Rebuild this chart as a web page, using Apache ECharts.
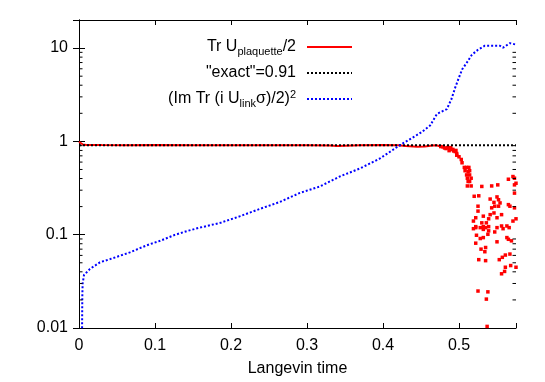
<!DOCTYPE html>
<html><head><meta charset="utf-8">
<script src="https://cdn.jsdelivr.net/npm/echarts@6/dist/echarts.min.js"></script>
<style>html,body{margin:0;padding:0;background:#fff}#c{width:545px;height:382px}</style>
</head><body><div id="c"></div>
<script>
const xMin = 0, xMax = 0.575, xInterval = 0.1;
const yMin = 0.01, yMax = 20;
const xTickLabels = ['0','0.1','0.2','0.3','0.4','0.5'];
const yTickLabels = ['0.01','0.1','1','10'];
const yMinorTicks = [0.02,0.03,0.04,0.05,0.06,0.07,0.08,0.09,0.2,0.3,0.4,0.5,0.6,0.7,0.8,0.9,2,3,4,5,6,7,8,9];

const legendNames = ['Tr U{sub|plaquette}/2', '"exact"=0.91', '(Im Tr (i U{sub|link}σ)/2){sup|2}'];

const plaquetteLine = [[0,0.99],[0.002,0.95],[0.005,0.925],[0.01,0.915],[0.03,0.912],[0.06,0.91],[0.1,0.912],[0.15,0.91],[0.2,0.911],[0.25,0.91],[0.3,0.91],[0.33,0.905],[0.34,0.89],[0.35,0.9],[0.37,0.91],[0.4,0.912],[0.42,0.91],[0.43,0.89],[0.445,0.875],[0.455,0.88],[0.465,0.905],[0.47,0.91],[0.476,0.88]];

const plaquetteScatter = [[0.476,0.88],[0.479,0.873],[0.481,0.85],[0.483,0.838],[0.485,0.86],[0.487,0.796],[0.489,0.857],[0.49,0.82],[0.492,0.82],[0.493,0.79],[0.495,0.778],[0.496,0.80],[0.497,0.741],[0.497,0.711],[0.5,0.684],[0.503,0.640],[0.504,0.590],
[0.507,0.526],[0.510,0.526],[0.513,0.526],[0.508,0.485],[0.512,0.474],[0.514,0.485],[0.510,0.437],[0.514,0.437],[0.511,0.403],[0.516,0.403],[0.512,0.372],[0.514,0.372],[0.511,0.333],[0.516,0.333],
[0.530,0.329],[0.543,0.333],[0.551,0.342],[0.565,0.393],[0.573,0.403],[0.573,0.342],[0.575,0.356],[0.573,0.279],[0.520,0.258],[0.526,0.261],[0.541,0.241],[0.550,0.254],[0.552,0.237],[0.546,0.222],[0.554,0.219],[0.547,0.202],[0.552,0.202],[0.543,0.194],[0.525,0.202],[0.565,0.210],[0.567,0.202],[0.573,0.194],[0.525,0.179],[0.522,0.152],[0.532,0.158],[0.541,0.164],[0.546,0.171],[0.556,0.164],[0.539,0.148],[0.536,0.134],[0.550,0.152],[0.519,0.140],[0.530,0.134],[0.522,0.122],[0.532,0.122],[0.539,0.122],[0.556,0.124],[0.563,0.124],[0.571,0.140],[0.575,0.148],[0.571,0.420],
[0.519,0.116],[0.522,0.119],[0.528,0.119],[0.532,0.114],[0.535,0.119],[0.539,0.110],[0.538,0.101],[0.532,0.0931],[0.528,0.0910],[0.523,0.0986],[0.547,0.107],[0.550,0.119],[0.558,0.116],[0.566,0.119],[0.563,0.0931],[0.565,0.0893],[0.569,0.0859],[0.522,0.0811],[0.550,0.0839],[0.529,0.0700],[0.535,0.0729],[0.534,0.0657],[0.567,0.0620],[0.561,0.0605],[0.557,0.0572],[0.553,0.0540],[0.526,0.0540],[0.535,0.0527],[0.568,0.0467],[0.561,0.0448],[0.575,0.0448],[0.560,0.0404],[0.556,0.0381],[0.525,0.0249],[0.538,0.0244],[0.536,0.0204],[0.537,0.0104]];

const exactValue = 0.91;
const exactLine = [[0, exactValue],[0.575, exactValue]];

const linkSigma = [[0.004,0.009],[0.0042,0.015],[0.0044,0.023],[0.0048,0.030],[0.0066,0.037],[0.0145,0.043],[0.0276,0.0506],[0.041,0.0548],[0.067,0.0646],[0.080,0.0717],[0.093,0.079],[0.107,0.086],[0.126,0.0995],[0.143,0.110],[0.159,0.119],[0.186,0.134],[0.212,0.158],[0.238,0.189],[0.264,0.224],[0.290,0.279],[0.317,0.329],[0.343,0.420],[0.370,0.514],[0.396,0.656],[0.422,0.908],[0.44,1.11],[0.451,1.26],[0.462,1.48],[0.471,1.97],[0.484,2.22],[0.490,2.83],[0.495,3.77],[0.499,4.61],[0.504,5.89],[0.51,6.93],[0.517,8.49],[0.525,9.6],[0.534,10.6],[0.545,10.6],[0.554,10.6],[0.558,10.1],[0.567,11.3],[0.575,10.9]];

const FONT = 'Liberation Sans, Arial, Helvetica, sans-serif';
const chart = echarts.init(document.getElementById('c'), null, {renderer: 'canvas'});

function xLabel(v) {
  const k = Math.round(v / xInterval);
  return Math.abs(v / xInterval - k) < 1e-6 && k < xTickLabels.length ? xTickLabels[k] : '';
}
function yLabel(v) {
  const vals = [0.01, 0.1, 1, 10];
  for (let i = 0; i < vals.length; i++) if (Math.abs(v / vals[i] - 1) < 1e-6) return yTickLabels[i];
  return '';
}

const axisLineStyle = {show: true, lineStyle: {color: '#000', width: 1}};
const legendY = [47, 73, 99];
const legendTextX = 296, legendLineX1 = 307, legendLineX2 = 352;
const richStyles = {
  sub: {fontSize: 11, fontFamily: FONT, verticalAlign: 'bottom', lineHeight: 8, fill: '#000'},
  sup: {fontSize: 11, fontFamily: FONT, verticalAlign: 'top', lineHeight: 6, fill: '#000'}
};

const graphic = [];
const legendStyles = [
  {stroke: '#ff0000', lineWidth: 2},
  {stroke: '#000000', lineWidth: 2, lineDash: [2, 2]},
  {stroke: '#0000ff', lineWidth: 2, lineDash: [2, 2]}
];
legendNames.forEach((name, i) => {
  graphic.push({type: 'text', x: legendTextX, y: legendY[i], silent: true,
    style: {text: name, align: 'right', verticalAlign: 'middle', fontSize: 16, fontFamily: FONT, lineHeight: 20, fill: '#000', rich: richStyles}});
  graphic.push({type: 'line', silent: true, shape: {x1: legendLineX1, y1: legendY[i], x2: legendLineX2, y2: legendY[i]}, style: legendStyles[i]});
});

const minorTickData = [];
yMinorTicks.forEach(v => { minorTickData.push([xMin, v, 1]); minorTickData.push([xMax, v, -1]); });

chart.setOption({
  animation: false,
  backgroundColor: '#fff',
  grid: {left: 79, top: 20, right: 29, bottom: 50, containLabel: false},
  xAxis: [
    {type: 'value', min: xMin, max: xMax, interval: xInterval, position: 'bottom',
     axisLine: axisLineStyle, axisTick: {inside: true, length: 5, lineStyle: {color: '#000'}},
     splitLine: {show: false},
     axisLabel: {formatter: xLabel, color: '#000', fontSize: 16, fontFamily: FONT, margin: 10},
     name: 'Langevin time', nameLocation: 'middle', nameGap: 33,
     nameTextStyle: {color: '#000', fontSize: 16, fontFamily: FONT}},
    {type: 'value', min: xMin, max: xMax, interval: xInterval, position: 'top',
     axisLine: axisLineStyle, axisTick: {inside: true, length: 5, lineStyle: {color: '#000'}},
     splitLine: {show: false}, axisLabel: {show: false}}
  ],
  yAxis: [
    {type: 'log', logBase: 10, min: yMin, max: yMax, position: 'left',
     axisLine: axisLineStyle, axisTick: {inside: true, length: 6, lineStyle: {color: '#000'}},
     splitLine: {show: false}, minorTick: {show: false},
     axisLabel: {formatter: yLabel, color: '#000', fontSize: 16, fontFamily: FONT, margin: 11}},
    {type: 'log', logBase: 10, min: yMin, max: yMax, position: 'right',
     axisLine: axisLineStyle, axisTick: {inside: true, length: 6, lineStyle: {color: '#000'}},
     splitLine: {show: false}, axisLabel: {show: false}}
  ],
  graphic: graphic,
  series: [
    {type: 'custom', xAxisIndex: 0, yAxisIndex: 0, silent: true, clip: false, z: 10,
     data: minorTickData,
     renderItem: function (params, api) {
       const p = api.coord([api.value(0), api.value(1)]);
       const dir = api.value(2);
       return {type: 'line', shape: {x1: p[0], y1: p[1], x2: p[0] + dir * 3.5, y2: p[1]},
               style: {stroke: '#000', lineWidth: 1}};
     }},
    {type: 'line', name: 'plaquette', data: plaquetteLine, showSymbol: false, clip: true,
     lineStyle: {color: '#ff0000', width: 2}, itemStyle: {color: '#ff0000'}},
    {type: 'scatter', name: 'plaquette pts', data: plaquetteScatter, symbol: 'rect', symbolSize: 3.5, clip: true,
     itemStyle: {color: '#ff0000', opacity: 1}},
    {type: 'line', name: 'exact', data: exactLine, showSymbol: false, clip: true,
     lineStyle: {color: '#000000', width: 2, type: [2, 2]}},
    {type: 'line', name: 'link', data: linkSigma, showSymbol: false, clip: true,
     lineStyle: {color: '#0000ff', width: 2, type: [2, 2]}}
  ]
});
</script>
</body></html>
